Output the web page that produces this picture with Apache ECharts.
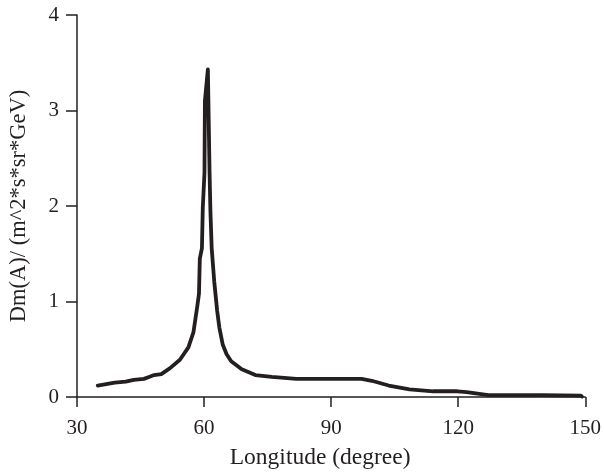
<!DOCTYPE html>
<html>
<head>
<meta charset="utf-8">
<script src="https://cdn.jsdelivr.net/npm/echarts@6/dist/echarts.min.js"></script>
<style>html,body{margin:0;padding:0;background:#fff}#c{width:604px;height:475px}</style>
</head>
<body>
<div id="c"></div>
<script>
var longitude = [34.9, 38.9, 41.5, 43.4, 45.8, 47.0, 48.2, 49.9, 51.9, 54.3, 56.3, 57.5, 58.4, 58.8, 59.0, 59.5, 59.7, 60.1, 60.2, 60.9, 61.1, 61.3, 61.5, 61.8, 62.4, 63.1, 63.6, 64.4, 65.3, 66.4, 68.9, 72.1, 76.0, 81.8, 90.0, 97.2, 99.6, 103.6, 108.5, 114.1, 119.8, 122.0, 127.1, 140.0, 148.9, 149.2];
var dmA = [0.12, 0.15, 0.16, 0.18, 0.19, 0.21, 0.23, 0.24, 0.30, 0.39, 0.52, 0.68, 0.95, 1.08, 1.45, 1.56, 1.98, 2.35, 3.10, 3.43, 3.43, 2.35, 1.95, 1.56, 1.21, 0.90, 0.73, 0.55, 0.45, 0.375, 0.29, 0.23, 0.21, 0.19, 0.19, 0.19, 0.17, 0.12, 0.08, 0.06, 0.06, 0.05, 0.02, 0.02, 0.015, 0.005];
var xTicks = [30, 60, 90, 120, 150];
var yTicks = [0, 1, 2, 3, 4];
var xTitle = 'Longitude (degree)';
var yTitle = 'Dm(A)/ (m^2*s*sr*GeV)';

var pts = longitude.map(function (x, i) { return [x, dmA[i]]; });
var ink = '#231f20';
var font = 'Liberation Serif';
var chart = echarts.init(document.getElementById('c'), null, {renderer: 'canvas'});
chart.setOption({
  animation: false,
  backgroundColor: '#fff',
  grid: {left: 77, right: 16.5, top: 15, bottom: 75, containLabel: false},
  xAxis: {
    type: 'value', min: xTicks[0], max: xTicks[xTicks.length - 1], interval: 30,
    name: xTitle, nameLocation: 'middle', nameGap: 49,
    nameTextStyle: {fontFamily: font, fontSize: 23.5, color: ink, padding: [0, 22, 0, 0]},
    axisLine: {show: true, onZero: false, lineStyle: {color: ink, width: 1.5}},
    axisTick: {show: true, inside: false, length: 10, lineStyle: {color: ink, width: 1.5}},
    axisLabel: {fontFamily: font, fontSize: 21, color: ink, margin: 21},
    splitLine: {show: false}
  },
  yAxis: {
    type: 'value', min: yTicks[0], max: yTicks[yTicks.length - 1], interval: 1,
    name: yTitle, nameLocation: 'middle', nameGap: 46, nameRotate: 90,
    nameTextStyle: {fontFamily: font, fontSize: 22.5, color: ink},
    axisLine: {show: true, lineStyle: {color: ink, width: 1.5}},
    axisTick: {show: true, inside: false, length: 11, lineStyle: {color: ink, width: 1.5}},
    axisLabel: {fontFamily: font, fontSize: 21, color: ink, margin: 18},
    splitLine: {show: false}
  },
  series: [{
    type: 'line', data: pts, showSymbol: false, symbol: 'none', smooth: false,
    lineStyle: {color: ink, width: 3.8, join: 'round', cap: 'round'}
  }]
});
</script>
</body>
</html>
